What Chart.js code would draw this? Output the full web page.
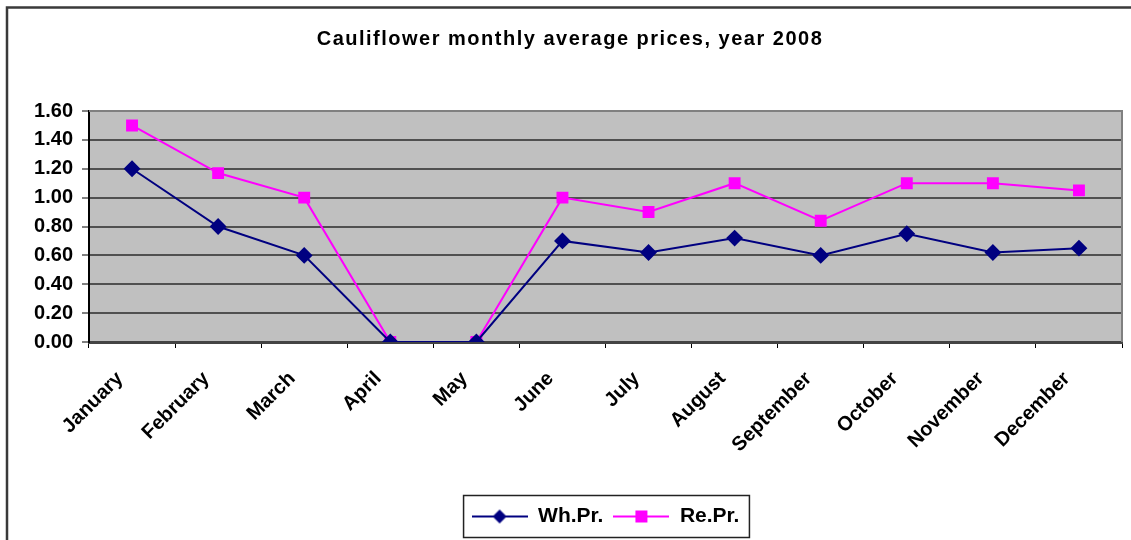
<!DOCTYPE html>
<html>
<head>
<meta charset="utf-8">
<script src="https://cdn.jsdelivr.net/npm/chart.js@4.4.1/dist/chart.umd.min.js"></script>
<style>
  body { margin: 0; background: #fff; }
  #wrap { width: 1131px; height: 540px; }
</style>
</head>
<body>
<div id="wrap"><canvas id="priceChart" width="1131" height="540"></canvas></div>
<script>
var months = ['January', 'February', 'March', 'April', 'May', 'June', 'July', 'August', 'September', 'October', 'November', 'December'];
var wholesale = [1.20, 0.80, 0.60, 0.00, 0.00, 0.70, 0.62, 0.72, 0.60, 0.75, 0.62, 0.65];
var retail = [1.50, 1.17, 1.00, 0.00, 0.00, 1.00, 0.90, 1.10, 0.84, 1.10, 1.10, 1.05];
var yTicks = [0, 0.2, 0.4, 0.6, 0.8, 1.0, 1.2, 1.4, 1.6];

var FONT = "'Liberation Sans', Arial, sans-serif";

// small line+marker picture for the legend entries
function legendIcon(color, style) {
    var c = document.createElement('canvas');
    c.width = 56;
    c.height = 18;
    var ctx = c.getContext('2d');
    ctx.strokeStyle = color;
    ctx.lineWidth = 2;
    ctx.beginPath();
    ctx.moveTo(0, 9);
    ctx.lineTo(56, 9);
    ctx.stroke();
    ctx.fillStyle = color;
    if (style == 'diamond') {
        ctx.beginPath();
        ctx.moveTo(28, 2);
        ctx.lineTo(35, 9);
        ctx.lineTo(28, 16);
        ctx.lineTo(21, 9);
        ctx.closePath();
        ctx.fill();
    } else {
        ctx.fillRect(22, 3, 12, 12);
    }
    return c;
}

var whIcon = legendIcon('#000080', 'diamond');
var reIcon = legendIcon('#FF00FF', 'square');

// outer frame, grey plot background, box round the legend, spaced title
var framePlugin = {
    id: 'frame',
    beforeDraw: function (chart) {
        var ctx = chart.ctx;
        var a = chart.chartArea;
        ctx.save();
        ctx.fillStyle = '#fff';
        ctx.fillRect(0, 0, chart.width, chart.height);
        ctx.strokeStyle = '#3a3a3a';
        ctx.lineWidth = 2.5;
        ctx.strokeRect(7, 7.5, 1140, 560);
        ctx.fillStyle = '#C0C0C0';
        ctx.fillRect(a.left, a.top, a.right - a.left, a.bottom - a.top);
        ctx.restore();

        var tb = chart.titleBlock;
        if (tb && !tb._spaced) {
            var orig = tb.draw;
            tb.draw = function () {
                chart.ctx.letterSpacing = '1.5px';
                orig.apply(this, arguments);
                chart.ctx.letterSpacing = '0px';
            };
            tb._spaced = true;
        }
    },
    afterDraw: function (chart) {
        var ctx = chart.ctx;
        var a = chart.chartArea;
        ctx.save();
        ctx.strokeStyle = '#808080';
        ctx.lineWidth = 2;
        ctx.beginPath();
        ctx.moveTo(a.left, a.top);
        ctx.lineTo(a.right, a.top);
        ctx.lineTo(a.right, a.bottom);
        ctx.stroke();

        var boxes = chart.legend.legendHitBoxes;
        if (boxes && boxes.length) {
            var l = boxes[0].left, r = boxes[boxes.length - 1].left + boxes[boxes.length - 1].width;
            var cy = boxes[0].top + boxes[0].height / 2;
            ctx.strokeStyle = '#222';
            ctx.lineWidth = 1.5;
            ctx.strokeRect(l - 8, cy - 21, r - l + 18, 42);
        }
        ctx.restore();
    }
};

new Chart(document.getElementById('priceChart'), {
    type: 'line',
    data: {
        labels: months,
        datasets: [{
            label: 'Wh.Pr.',
            data: wholesale,
            borderColor: '#000080',
            backgroundColor: '#000080',
            borderWidth: 2,
            pointStyle: 'rectRot',
            pointRadius: 7,
            pointHoverRadius: 7,
            tension: 0
        }, {
            label: 'Re.Pr.',
            data: retail,
            borderColor: '#FF00FF',
            backgroundColor: '#FF00FF',
            borderWidth: 2,
            pointStyle: 'rect',
            pointRadius: 7,
            pointHoverRadius: 7,
            tension: 0
        }]
    },
    plugins: [framePlugin],
    options: {
        responsive: false,
        animation: false,
        layout: {
            padding: { left: 18, right: 9, top: 27, bottom: 3 }
        },
        plugins: {
            title: {
                display: true,
                text: 'Cauliflower monthly average prices, year 2008',
                color: '#000',
                font: { family: FONT, size: 20, weight: 'bold' },
                padding: { top: 0, bottom: 60 }
            },
            legend: {
                position: 'bottom',
                fullSize: false,
                labels: {
                    color: '#000',
                    font: { family: FONT, size: 21, weight: 'bold' },
                    usePointStyle: true,
                    pointStyleWidth: 56,
                    padding: 10,
                    generateLabels: function (chart) {
                        return chart.data.datasets.map(function (ds, i) {
                            return {
                                text: ds.label,
                                pointStyle: i == 0 ? whIcon : reIcon,
                                fillStyle: ds.borderColor,
                                strokeStyle: ds.borderColor,
                                lineWidth: 0,
                                fontColor: '#000',
                                datasetIndex: i
                            };
                        });
                    }
                }
            },
            tooltip: { enabled: false }
        },
        scales: {
            x: {
                offset: true,
                afterFit: function (axis) { axis.height = 154; },
                grid: {
                    offset: true,
                    drawOnChartArea: false,
                    drawTicks: true,
                    tickLength: 6,
                    color: '#000'
                },
                border: { color: '#444', width: 3 },
                ticks: {
                    color: '#000',
                    font: { family: FONT, size: 20, weight: 'bold' },
                    minRotation: 45,
                    maxRotation: 45,
                    autoSkip: false,
                    padding: 19,
                    labelOffset: -12
                }
            },
            y: {
                min: 0,
                max: 1.6,
                afterFit: function (axis) { axis.width = 71; },
                afterBuildTicks: function (axis) {
                    axis.ticks = yTicks.map(function (v) { return { value: v }; });
                },
                grid: {
                    color: '#505050',
                    lineWidth: 2,
                    drawTicks: true,
                    tickLength: 7,
                    tickColor: '#000',
                    tickWidth: 1
                },
                border: { color: '#000', width: 2 },
                ticks: {
                    color: '#000',
                    font: { family: FONT, size: 20, weight: 'bold' },
                    padding: 9,
                    callback: function (v) { return Number(v).toFixed(2); }
                }
            }
        }
    }
});
</script>
</body>
</html>
